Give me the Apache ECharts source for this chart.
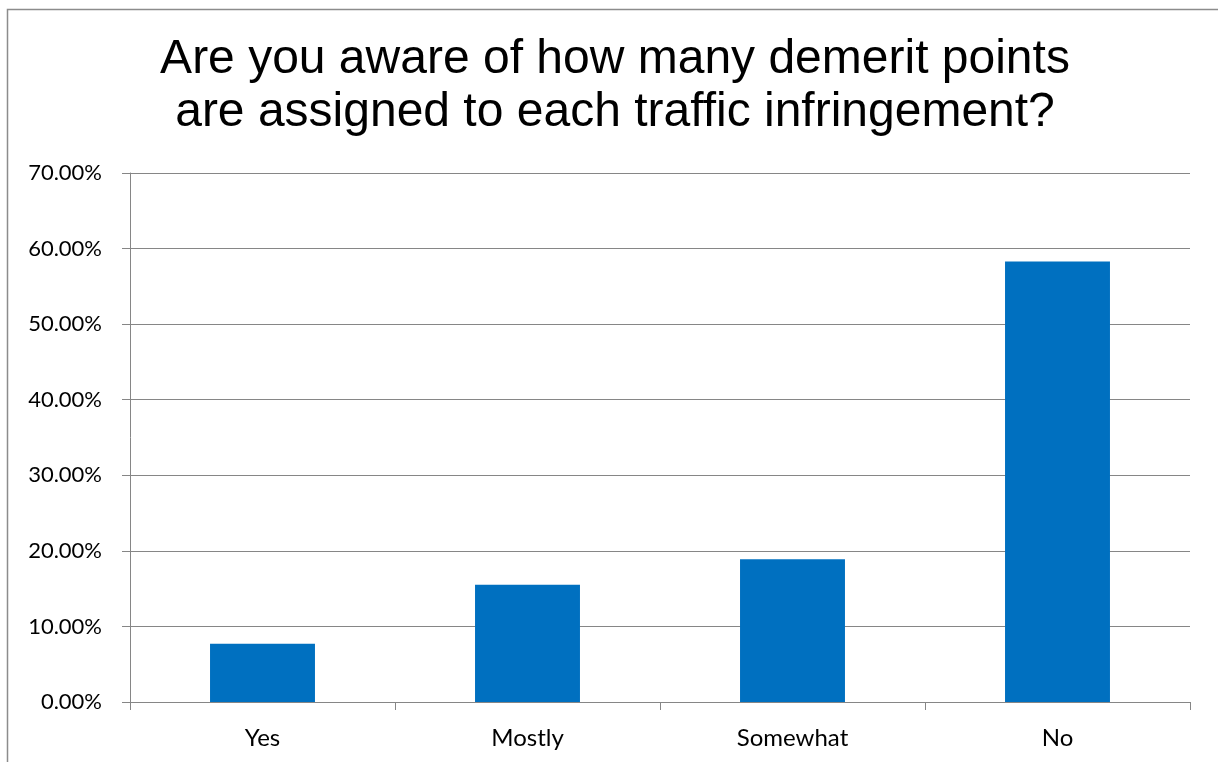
<!DOCTYPE html>
<html>
<head>
<meta charset="utf-8">
<script src="https://cdn.jsdelivr.net/npm/echarts@6/dist/echarts.min.js"></script>
<style>
html,body{margin:0;padding:0;background:#fff;}
#c{width:1218px;height:762px;}
</style>
</head>
<body>
<div id="c"></div>
<script>
const titleText = 'Are you aware of how many demerit points\nare assigned to each traffic infringement?';
const categories = ['Yes', 'Mostly', 'Somewhat', 'No'];
const values = [7.7, 15.5, 18.9, 58.3];
const yTicks = { min: 0, max: 70, interval: 10 };

const chart = echarts.init(document.getElementById('c'), null, { renderer: 'canvas' });
const gray = '#868686';
chart.setOption({
  animation: false,
  backgroundColor: '#ffffff',
  title: {
    text: titleText,
    left: 610,
    top: 28,
    textAlign: 'center',
    textStyle: {
      fontFamily: 'Liberation Sans, Arial, sans-serif',
      fontSize: 48,
      fontWeight: 'normal',
      color: '#000',
      lineHeight: 53
    }
  },
  graphic: [{
    type: 'rect',
    shape: { x: 7.5, y: 9.5, width: 1400, height: 1000 },
    style: { fill: 'none', stroke: '#8c8c8c', lineWidth: 1.5 },
    silent: true
  }],
  grid: { left: 130, right: 28, top: 173, bottom: 60 },
  xAxis: {
    type: 'category',
    data: categories,
    boundaryGap: true,
    axisLine: { show: true, lineStyle: { color: gray, width: 1 } },
    axisTick: { show: true, length: 8, lineStyle: { color: gray } },
    axisLabel: {
      margin: 24,
      fontFamily: 'Lato, sans-serif',
      fontSize: 24,
      color: '#000'
    },
    splitLine: { show: false }
  },
  yAxis: {
    type: 'value',
    min: yTicks.min,
    max: yTicks.max,
    interval: yTicks.interval,
    axisLine: { show: true, lineStyle: { color: gray, width: 1 } },
    axisTick: { show: true, length: 8, lineStyle: { color: gray } },
    axisLabel: {
      margin: 28,
      fontFamily: 'Lato, sans-serif',
      fontSize: 22,
      color: '#000',
      formatter: v => v.toFixed(2) + '%'
    },
    splitLine: { show: true, lineStyle: { color: gray, width: 1 } }
  },
  series: [{
    type: 'bar',
    data: values,
    barWidth: '39.6%',
    itemStyle: { color: '#0070C0' }
  }]
});
</script>
</body>
</html>
